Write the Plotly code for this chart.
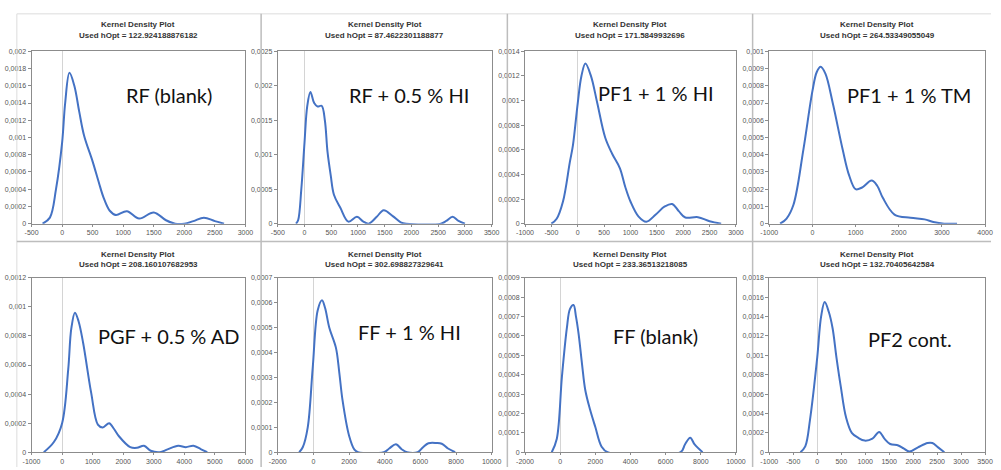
import plotly.graph_objects as go

# ---------------- data ----------------
labels = ["RF (blank)", "RF + 0.5 % HI", "PF1 + 1 % HI", "PF1 + 1 % TM",
          "PGF + 0.5 % AD", "FF + 1 % HI", "FF (blank)", "PF2 cont."]
hopt = ["122.924188876182", "87.4622301188877", "171.5849932696", "264.53349055049",
        "208.160107682953", "302.698827329641", "233.36513218085", "132.70405642584"]

x1 = [-320, -200, -100, 0, 50, 120, 200, 280, 360, 500, 600, 680, 780, 880, 1060, 1260, 1500, 1700, 1850, 2000, 2150, 2320, 2500, 2650]
y1 = [0, 0.00007, 0.0004, 0.00094, 0.0014, 0.00175, 0.0016, 0.0013, 0.00102, 0.00072, 0.00048, 0.0003, 0.00015, 0.0001, 0.000145, 0.00006, 0.00013, 0.00004, 0.0, 0.0, 0.00003, 0.00007, 0.00003, 0]

x2 = [-160, -120, -60, 0, 50, 110, 180, 245, 320, 380, 430, 490, 550, 670, 820, 980, 1100, 1200, 1350, 1480, 1650, 1800, 1900, 2550, 2650, 2770, 2880, 3000]
y2 = [0, 0.00005, 0.0005, 0.00118, 0.0017, 0.00191, 0.00175, 0.0017, 0.00171, 0.0015, 0.00104, 0.0007, 0.00042, 0.00023, 0.00003, 0.0001, 0.00003, 0, 0.0001, 0.000195, 0.00011, 0.00002, 0, 0, 0.00004, 0.0001, 0.00004, 0]

x3 = [-500, -400, -280, -150, -90, 0, 70, 145, 250, 370, 520, 650, 800, 900, 1000, 1150, 1300, 1480, 1650, 1790, 1920, 2040, 2280, 2500, 2720]
y3 = [0, 0.00004, 0.00018, 0.0005, 0.00064, 0.00098, 0.0012, 0.0013, 0.0012, 0.00098, 0.0007, 0.00057, 0.00045, 0.0003, 0.00018, 0.00006, 0.000016, 0.000075, 0.00014, 0.00016, 0.0001, 0.00005, 0.000053, 0.00002, 0]

x4 = [-750, -600, -440, -210, 0, 100, 190, 300, 470, 700, 850, 1000, 1150, 1370, 1500, 1630, 1900, 2270, 2600, 2800, 3050, 3350]
y4 = [0, 0.00003, 0.00011, 0.00043, 0.00077, 0.00088, 0.00091, 0.00087, 0.0007, 0.00043, 0.00028, 0.0002, 0.00021, 0.00025, 0.00022, 0.00015, 0.000053, 0.000034, 0.000025, 0.00001, 0, 0]

x5 = [-600, -270, 0, 200, 300, 420, 540, 690, 950, 1170, 1330, 1540, 1700, 1860, 2230, 2450, 2680, 2900, 3200, 3450, 3800, 4050, 4300, 4550, 4750]
y5 = [0, 0.00007, 0.0002, 0.00057, 0.00085, 0.00096, 0.0009, 0.00075, 0.00041, 0.00019, 0.00017, 0.0002, 0.00016, 0.00011, 0.000035, 0.00003, 0.000045, 0.00001, 0.0, 0.00002, 0.000045, 0.000035, 0.000045, 0.00002, 0]

x6 = [-800, -600, -320, -40, 240, 480, 650, 890, 1260, 1450, 1630, 2000, 2300, 2500, 3950, 4250, 4630, 4950, 5250, 5850, 6150, 6450, 6900, 7200, 7550, 7950]
y6 = [0, 0.00002, 0.0001, 0.00034, 0.00057, 0.00061, 0.00058, 0.0005, 0.00042, 0.00032, 0.00021, 0.000066, 0.00001, 0, 0, 0.000015, 0.000032, 0.000012, 0, 0, 0.00002, 0.000036, 0.000037, 0.000034, 0.000015, 0]

x7 = [-480, -190, 100, 380, 560, 760, 900, 1050, 1250, 1430, 1700, 2000, 2350, 2700, 6850, 7100, 7400, 7650, 8100]
y7 = [0, 0.00007, 0.00039, 0.00064, 0.00074, 0.00076, 0.0007, 0.00061, 0.00045, 0.00032, 0.00022, 0.00013, 0.00003, 0, 0, 0.00004, 0.000075, 0.00004, 0]

x8 = [-350, -250, -150, 0, 80, 155, 240, 320, 400, 490, 600, 720, 850, 990, 1150, 1290, 1400, 1520, 1690, 1800, 1920, 2100, 2300, 2400, 2520, 2650]
y8 = [0, 0.00006, 0.00034, 0.00098, 0.0014, 0.00155, 0.00145, 0.00128, 0.00098, 0.00068, 0.00036, 0.0002, 0.00015, 0.00012, 0.00014, 0.00021, 0.00014, 0.000085, 0.00007, 0.00004, 0.000007, 0.00005, 0.000095, 0.000095, 0.00005, 0]

xs = [x1, x2, x3, x4, x5, x6, x7, x8]
ys = [y1, y2, y3, y4, y5, y6, y7, y8]

x_ticks = [
    [-500, 0, 500, 1000, 1500, 2000, 2500, 3000],
    [-500, 0, 500, 1000, 1500, 2000, 2500, 3000, 3500],
    [-1000, -500, 0, 500, 1000, 1500, 2000, 2500, 3000],
    [-1000, 0, 1000, 2000, 3000, 4000],
    [-1000, 0, 1000, 2000, 3000, 4000, 5000, 6000],
    [-2000, 0, 2000, 4000, 6000, 8000, 10000],
    [-2000, 0, 2000, 4000, 6000, 8000, 10000],
    [-1000, -500, 0, 500, 1000, 1500, 2000, 2500, 3000, 3500],
]
y_ticks = [
    [0, 0.0002, 0.0004, 0.0006, 0.0008, 0.001, 0.0012, 0.0014, 0.0016, 0.0018, 0.002],
    [0, 0.0005, 0.001, 0.0015, 0.002, 0.0025],
    [0, 0.0002, 0.0004, 0.0006, 0.0008, 0.001, 0.0012, 0.0014],
    [0, 0.0001, 0.0002, 0.0003, 0.0004, 0.0005, 0.0006, 0.0007, 0.0008, 0.0009, 0.001],
    [0, 0.0002, 0.0004, 0.0006, 0.0008, 0.001, 0.0012],
    [0, 0.0001, 0.0002, 0.0003, 0.0004, 0.0005, 0.0006, 0.0007],
    [0, 0.0001, 0.0002, 0.0003, 0.0004, 0.0005, 0.0006, 0.0007, 0.0008, 0.0009],
    [0, 0.0002, 0.0004, 0.0006, 0.0008, 0.001, 0.0012, 0.0014, 0.0016, 0.0018],
]

# ---------------- layout geometry (pixels) ----------------
W, H = 1001, 470
col_left = [23, 274, 526, 775]
col_right = [241, 492, 741, 995]
row_top = [48, 278]
row_bot = [223, 455]
title_y = [(21, 32), (254, 264)]
label_pos = [(163, 92), (408, 92), (660, 90), (917, 92),
             (163, 337), (408, 333), (659, 337), (918, 340)]

def fx(px):
    return px / W

def fy(py):
    return 1 - py / H

def fmt(v):
    return f"{round(v, 6):g}".replace(".", ",")

fig = go.Figure()
layout = dict(
    width=W, height=H, margin=dict(l=0, r=0, t=0, b=0),
    paper_bgcolor="white", plot_bgcolor="white", showlegend=False,
    font=dict(family="Liberation Sans, Arial, sans-serif", color="#555555"),
)
annotations = []
shapes = []

tickfont = dict(size=7, color="#555555", family="Liberation Sans, Arial, sans-serif")

for i in range(8):
    r, c = divmod(i, 4)
    n = "" if i == 0 else str(i + 1)
    fig.add_trace(go.Scatter(
        x=xs[i], y=ys[i], mode="lines", line=dict(color="#4472C4", width=2, shape="spline", smoothing=1.0),
        xaxis="x" + n, yaxis="y" + n, hoverinfo="skip"))
    layout["xaxis" + n] = dict(
        domain=[fx(col_left[c]), fx(col_right[c])], anchor="y" + n,
        range=[x_ticks[i][0], x_ticks[i][-1]], tickvals=x_ticks[i],
        ticktext=[str(v) for v in x_ticks[i]], tickfont=tickfont,
        showgrid=False, zeroline=True, zerolinecolor="#d4d4d4", zerolinewidth=1,
        showline=True, mirror=True, linecolor="#8c8c8c", linewidth=1,
        ticks="outside", ticklen=2, tickcolor="#8c8c8c", fixedrange=True)
    layout["yaxis" + n] = dict(
        domain=[fy(row_bot[r]), fy(row_top[r])], anchor="x" + n,
        range=[0, y_ticks[i][-1]], tickvals=y_ticks[i],
        ticktext=[fmt(v) for v in y_ticks[i]], tickfont=tickfont,
        showgrid=False, zeroline=False,
        showline=True, mirror=True, linecolor="#8c8c8c", linewidth=1,
        ticks="outside", ticklen=3, tickcolor="#8c8c8c", fixedrange=True)
    cx = (col_left[c] + col_right[c]) / 2
    annotations.append(dict(
        x=fx(cx), y=fy(title_y[r][0]), xref="paper", yref="paper", showarrow=False,
        text="<b>Kernel Density Plot</b>", font=dict(size=8, color="#333333",
        family="Liberation Sans, Arial, sans-serif"), xanchor="center", yanchor="middle"))
    annotations.append(dict(
        x=fx(cx), y=fy(title_y[r][1]), xref="paper", yref="paper", showarrow=False,
        text="<b>Used hOpt = " + hopt[i] + "</b>", font=dict(size=8, color="#333333",
        family="Liberation Sans, Arial, sans-serif"), xanchor="center", yanchor="middle"))
    lx, ly = label_pos[i]
    annotations.append(dict(
        x=fx(lx), y=fy(ly), xref="paper", yref="paper", showarrow=False,
        text=labels[i], font=dict(size=20, color="#111111", family="Lato, Open Sans, sans-serif"),
        xanchor="center", yanchor="middle"))

# panel separators
line_light = dict(color="#dcdcdc", width=1)
line_div = dict(color="#bdbdbd", width=1.5)
shapes.append(dict(type="line", xref="paper", yref="paper", x0=fx(8), x1=1, y0=fy(10), y1=fy(10), line=line_light))
shapes.append(dict(type="line", xref="paper", yref="paper", x0=fx(8), x1=fx(8), y0=fy(10), y1=0, line=line_light))
for vx in [257, 508, 758]:
    shapes.append(dict(type="line", xref="paper", yref="paper", x0=fx(vx), x1=fx(vx), y0=0, y1=fy(10), line=line_div))
shapes.append(dict(type="line", xref="paper", yref="paper", x0=fx(8), x1=1, y0=fy(241), y1=fy(241), line=line_div))

layout["annotations"] = annotations
layout["shapes"] = shapes
fig.update_layout(**layout)
fig.write_html("out.html", config={"displayModeBar": False},
               post_script="document.body.style.margin='0';document.body.style.overflow='hidden';")
